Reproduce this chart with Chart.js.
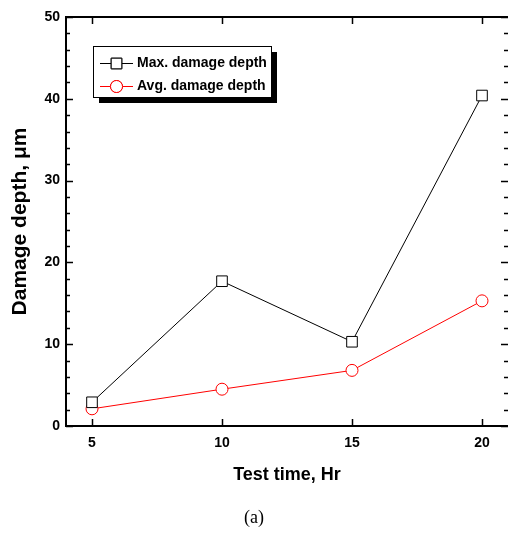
<!DOCTYPE html>
<html>
<head>
<meta charset="utf-8">
<script src="https://cdn.jsdelivr.net/npm/chart.js@4/dist/chart.umd.min.js"></script>
<style>
html,body{margin:0;padding:0;background:#fff;}
#wrap{width:508px;height:533px;}
</style>
</head>
<body>
<div id="wrap"><canvas id="c" width="508" height="533"></canvas></div>
<script>
const times = [5, 10, 15, 20];
const maxDepth = [2.9, 17.7, 10.3, 40.4];
const avgDepth = [2.1, 4.5, 6.8, 15.3];
const seriesNames = ['Max. damage depth', 'Avg. damage depth'];
const yTicks = [0, 10, 20, 30, 40, 50];
const xTicks = [5, 10, 15, 20];

const frameTicks = {
  id: 'frameTicks',
  afterDraw(chart) {
    const ctx = chart.ctx;
    const a = chart.chartArea;
    const xs = chart.scales.x, ys = chart.scales.y;
    ctx.save();
    ctx.strokeStyle = '#000';
    ctx.lineWidth = 2;
    ctx.beginPath();
    ctx.moveTo(a.left - 1, a.top);
    ctx.lineTo(a.right, a.top);
    ctx.stroke();
    ctx.lineWidth = 1.5;
    for (let v = 0; v <= 50; v += 2) {
      const y = Math.round(ys.getPixelForValue(v)) + 0.5;
      const len = v % 10 === 0 ? 7 : 4;
      ctx.beginPath();
      ctx.moveTo(a.left, y); ctx.lineTo(a.left + len, y);
      ctx.moveTo(a.right, y); ctx.lineTo(a.right - len, y);
      ctx.stroke();
    }
    xTicks.forEach(v => {
      const x = Math.round(xs.getPixelForValue(v)) + 0.5;
      ctx.beginPath();
      ctx.moveTo(x, a.bottom); ctx.lineTo(x, a.bottom - 7);
      ctx.moveTo(x, a.top); ctx.lineTo(x, a.top + 7);
      ctx.stroke();
    });
    const bx = 93, by = 46, bw = 178, bh = 51;
    ctx.fillStyle = '#000';
    ctx.fillRect(bx + 6, by + 6, bw, bh);
    ctx.fillStyle = '#fff';
    ctx.fillRect(bx, by, bw, bh);
    ctx.lineWidth = 1;
    ctx.strokeStyle = '#000';
    ctx.strokeRect(bx + 0.5, by + 0.5, bw, bh);
    const rows = [63, 86];
    chart.data.datasets.forEach((ds, i) => {
      const yy = rows[i] + 0.5;
      ctx.strokeStyle = ds.borderColor;
      ctx.lineWidth = 1;
      ctx.beginPath();
      ctx.moveTo(100, yy); ctx.lineTo(133, yy);
      ctx.stroke();
      Chart.helpers.drawPoint(ctx, {pointStyle: ds.pointStyle, radius: ds.pointRadius, borderWidth: 1}, 116.5, yy);
      ctx.fillStyle = '#fff';
      ctx.fill();
      ctx.stroke();
      ctx.fillStyle = '#000';
      ctx.font = 'bold 14px "Liberation Sans", Arial, sans-serif';
      ctx.textBaseline = 'middle';
      ctx.textAlign = 'left';
      ctx.fillText(ds.label, 137, rows[i]);
    });
    ctx.restore();
  }
};

new Chart(document.getElementById('c'), {
  type: 'line',
  data: {
    datasets: [
      {
        label: seriesNames[0],
        data: times.map((t, i) => ({x: t, y: maxDepth[i]})),
        borderColor: '#000',
        backgroundColor: '#fff',
        borderWidth: 1,
        pointStyle: 'rect',
        pointRadius: 7.5,
        pointBorderWidth: 1,
        pointBackgroundColor: '#fff',
        pointBorderColor: '#000',
        tension: 0
      },
      {
        label: seriesNames[1],
        data: times.map((t, i) => ({x: t, y: avgDepth[i]})),
        borderColor: '#ff0000',
        backgroundColor: '#fff',
        borderWidth: 1,
        pointStyle: 'circle',
        pointRadius: 6,
        pointBorderWidth: 1,
        pointBackgroundColor: '#fff',
        pointBorderColor: '#ff0000',
        tension: 0
      }
    ]
  },
  options: {
    responsive: false,
    animation: false,
    devicePixelRatio: 1,
    layout: {autoPadding: false, padding: {top: 17, right: 0, left: 0, bottom: 0}},
    plugins: {
      legend: {display: false},
      tooltip: {enabled: false},
      title: {
        display: true,
        position: 'bottom',
        text: '(a)',
        color: '#000',
        font: {family: '"Liberation Serif", "Times New Roman", serif', size: 18, weight: 'normal', lineHeight: 1.2},
        padding: {top: 0, bottom: 4}
      }
    },
    scales: {
      x: {
        type: 'linear',
        min: 4,
        max: 21,
        afterFit(s) { s.height = 81.4; s.paddingLeft = 0; s.paddingRight = 0; },
        afterBuildTicks(s) { s.ticks = xTicks.map(v => ({value: v})); },
        grid: {display: false, drawTicks: false},
        border: {display: true, color: '#000', width: 2},
        ticks: {
          padding: 9,
          color: '#000',
          font: {family: '"Liberation Sans", Arial, sans-serif', size: 14, weight: 'bold'}
        },
        title: {
          display: true,
          text: 'Test time, Hr',
          color: '#000',
          font: {family: '"Liberation Sans", Arial, sans-serif', size: 18, weight: 'bold', lineHeight: 1.2},
          padding: {top: 0, bottom: 21.6}
        }
      },
      y: {
        type: 'linear',
        min: 0,
        max: 50,
        afterFit(s) { s.width = 66; s.paddingTop = 0; s.paddingBottom = 0; },
        afterBuildTicks(s) { s.ticks = yTicks.map(v => ({value: v})); },
        grid: {display: false, drawTicks: false},
        border: {display: true, color: '#000', width: 2},
        ticks: {
          padding: 6,
          color: '#000',
          font: {family: '"Liberation Sans", Arial, sans-serif', size: 14, weight: 'bold'}
        },
        title: {
          display: true,
          text: 'Damage depth, μm',
          color: '#000',
          font: {family: '"Liberation Sans", Arial, sans-serif', size: 21, weight: 'bold', lineHeight: 1.2},
          padding: {top: 7.4, bottom: 0}
        }
      }
    }
  },
  plugins: [frameTicks]
});
</script>
</body>
</html>
